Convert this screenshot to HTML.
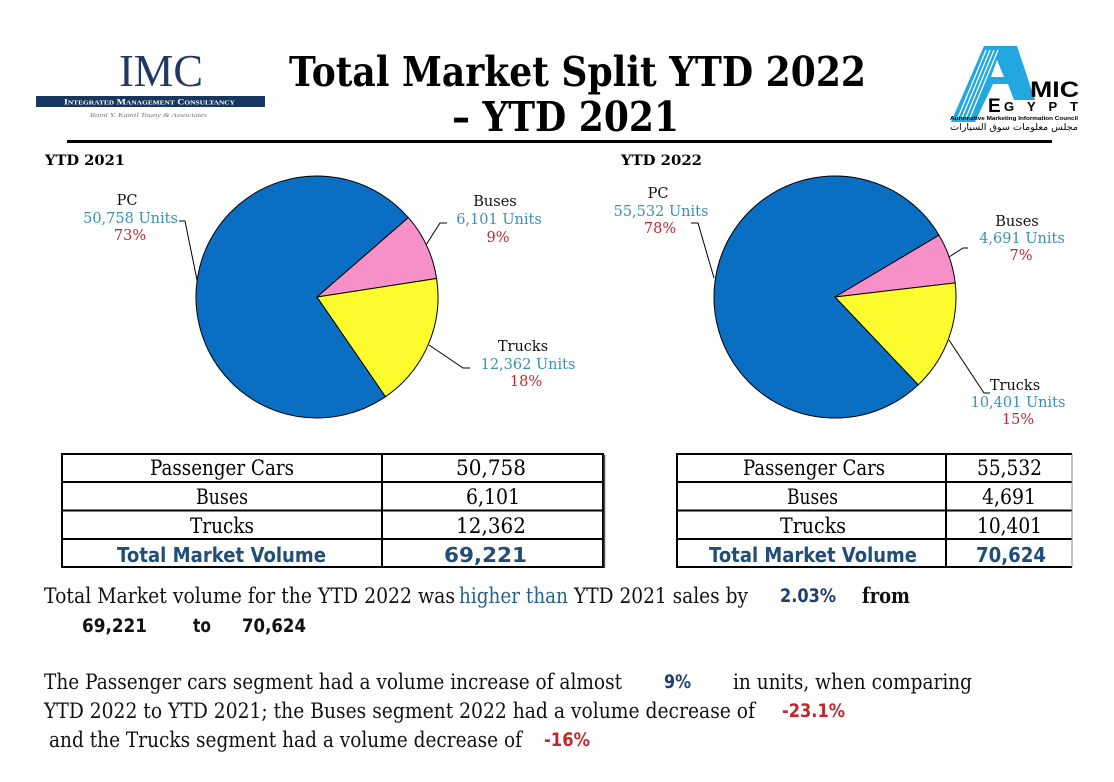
<!DOCTYPE html>
<html><head><meta charset="utf-8"><style>
html,body{margin:0;padding:0;background:#fff;}
svg{display:block;}
.s{font-family:"DejaVu Serif","Liberation Serif",serif;}
.b{font-family:"DejaVu Sans","Liberation Sans",sans-serif;font-weight:bold;}
</style></head><body>
<svg width="1114" height="782" viewBox="0 0 1114 782" xmlns="http://www.w3.org/2000/svg">
<rect width="1114" height="782" fill="#fff"/>
<!-- IMC logo -->
<text x="119" y="86" font-family="Liberation Serif,serif" font-size="46" fill="#1f3864" textLength="84" lengthAdjust="spacingAndGlyphs">IMC</text>
<rect x="36" y="96" width="229" height="11" fill="#17375e"/>
<text x="64" y="104.5" font-family="Liberation Serif,serif" font-size="8" font-weight="bold" fill="#fff" textLength="171" lengthAdjust="spacingAndGlyphs" style="font-variant:small-caps">Integrated Management Consultancy</text>
<text x="90" y="117" font-family="Liberation Serif,serif" font-style="italic" font-size="6" fill="#777" textLength="117" lengthAdjust="spacingAndGlyphs">Rami Y. Kamil Touny &amp; Associates</text>
<!-- Title -->
<text x="289" y="86" class="s" font-size="41" font-weight="bold" fill="#000" textLength="577" lengthAdjust="spacingAndGlyphs">Total Market Split YTD 2022</text>
<text x="452" y="131" class="s" font-size="41" font-weight="bold" fill="#000" textLength="227" lengthAdjust="spacingAndGlyphs">– YTD 2021</text>
<rect x="67" y="140" width="985" height="3" fill="#000"/>
<!-- AMIC logo -->
<g>
<path d="M984,46 L1017,46 L1035,100 L1014,100 L1008,84 L993,84 L975,122 L951,122 Z" fill="#22a7e0"/>
<path d="M997,60 L1004,77 L991,77 Z" fill="#fff"/>
<g stroke="#fff" stroke-width="1.3">
<line x1="986" y1="50" x2="957" y2="120"/>
<line x1="990" y1="50" x2="961" y2="120"/>
<line x1="994" y1="50" x2="965" y2="120"/>
<line x1="998" y1="50" x2="969" y2="120"/>
</g>
<text x="1030" y="97" font-family="Liberation Sans,sans-serif" font-weight="bold" font-size="22" fill="#000" textLength="49" lengthAdjust="spacingAndGlyphs">MIC</text>
<text x="988" y="112" font-family="Liberation Sans,sans-serif" font-weight="bold" font-size="19" fill="#000">E</text>
<text x="1004" y="111" font-family="Liberation Sans,sans-serif" font-weight="bold" font-size="13" fill="#000" textLength="74" lengthAdjust="spacing">GYPT</text>
<text x="950" y="120" font-family="Liberation Sans,sans-serif" font-weight="bold" font-size="5.5" fill="#000" textLength="128" lengthAdjust="spacingAndGlyphs">Automotive Marketing Information Council</text>
<text x="950" y="130" font-family="DejaVu Sans,sans-serif" font-size="9" fill="#000" textLength="128" lengthAdjust="spacingAndGlyphs">مجلس معلومات سوق السيارات</text>
</g>
<!-- Section labels -->
<text x="45" y="165" class="s" font-weight="bold" font-size="14" fill="#000" textLength="80" lengthAdjust="spacingAndGlyphs">YTD 2021</text>
<text x="621" y="165" class="s" font-weight="bold" font-size="14" fill="#000" textLength="81" lengthAdjust="spacingAndGlyphs">YTD 2022</text>
<!-- Left pie -->
<g stroke="#000" stroke-width="1">
<path d="M317,297 L385.5,396.7 A121,121 0 1,1 408.3,217.6 Z" fill="#0a6fc2"/>
<path d="M317,297 L408.3,217.6 A121,121 0 0,1 436.6,278.5 Z" fill="#f78fc9"/>
<path d="M317,297 L436.6,278.5 A121,121 0 0,1 385.5,396.7 Z" fill="#fbfb2d"/>
</g>
<g stroke="#000" stroke-width="1" fill="none">
<polyline points="179,221 185,221 197,280"/>
<polyline points="447,223 440,223 426,245"/>
<polyline points="429,345 463,368 470,368"/>
</g>
<g class="s" font-size="14.5" text-anchor="middle">
<text x="127" y="205" fill="#111">PC</text>
<text x="130.5" y="223" fill="#3a8fb7">50,758 Units</text>
<text x="130" y="240" fill="#c0282d">73%</text>
<text x="495" y="206" fill="#111">Buses</text>
<text x="499" y="224" fill="#3a8fb7">6,101 Units</text>
<text x="498" y="242" fill="#c0282d">9%</text>
<text x="523" y="351" fill="#111">Trucks</text>
<text x="528" y="369" fill="#3a8fb7">12,362 Units</text>
<text x="526" y="386" fill="#c0282d">18%</text>
</g>
<!-- Right pie -->
<g stroke="#000" stroke-width="1">
<path d="M835,297 L918.3,384.8 A121,121 0 1,1 939.0,235.2 Z" fill="#0a6fc2"/>
<path d="M835,297 L939.0,235.2 A121,121 0 0,1 955.2,282.9 Z" fill="#f78fc9"/>
<path d="M835,297 L955.2,282.9 A121,121 0 0,1 918.3,384.8 Z" fill="#fbfb2d"/>
</g>
<g stroke="#000" stroke-width="1" fill="none">
<polyline points="691,223 698,223 714,278"/>
<polyline points="968,248 963,248 949,257"/>
<polyline points="949,340 984,393 990,393"/>
</g>
<g class="s" font-size="14.5" text-anchor="middle">
<text x="658" y="198" fill="#111">PC</text>
<text x="661" y="216" fill="#3a8fb7">55,532 Units</text>
<text x="660" y="233" fill="#c0282d">78%</text>
<text x="1017" y="226" fill="#111">Buses</text>
<text x="1022" y="243" fill="#3a8fb7">4,691 Units</text>
<text x="1021" y="260" fill="#c0282d">7%</text>
<text x="1015" y="390" fill="#111">Trucks</text>
<text x="1018" y="407" fill="#3a8fb7">10,401 Units</text>
<text x="1018" y="424" fill="#c0282d">15%</text>
</g>
<!-- Left table -->
<g stroke="#000" fill="none">
<rect x="62" y="454" width="541" height="113" stroke-width="2"/>
<line x1="382" y1="454" x2="382" y2="567" stroke-width="2"/>
<line x1="62" y1="482" x2="603" y2="482" stroke-width="2"/>
<line x1="62" y1="510.5" x2="603" y2="510.5" stroke-width="2"/>
<line x1="62" y1="539" x2="603" y2="539" stroke-width="2"/>
<line x1="604.5" y1="455" x2="604.5" y2="568" stroke-width="1.5" stroke="#555"/>
</g>
<g class="s" font-size="21" fill="#000">
<text x="150" y="475" textLength="144" lengthAdjust="spacingAndGlyphs">Passenger Cars</text>
<text x="456" y="475" textLength="70" lengthAdjust="spacingAndGlyphs">50,758</text>
<text x="196" y="504" textLength="52" lengthAdjust="spacingAndGlyphs">Buses</text>
<text x="466" y="504" textLength="54" lengthAdjust="spacingAndGlyphs">6,101</text>
<text x="190" y="533" textLength="64" lengthAdjust="spacingAndGlyphs">Trucks</text>
<text x="456" y="533" textLength="70" lengthAdjust="spacingAndGlyphs">12,362</text>
</g>
<g class="b" font-size="20" fill="#1f4e79">
<text x="117" y="562" textLength="209" lengthAdjust="spacingAndGlyphs">Total Market Volume</text>
<text x="444" y="562" textLength="83" lengthAdjust="spacingAndGlyphs">69,221</text>
</g>
<!-- Right table -->
<g stroke="#000" fill="none">
<line x1="677" y1="454" x2="677" y2="567" stroke-width="2"/>
<line x1="676" y1="454" x2="1072" y2="454" stroke-width="2"/>
<line x1="676" y1="567" x2="1072" y2="567" stroke-width="2"/>
<line x1="946" y1="454" x2="946" y2="567" stroke-width="2"/>
<line x1="676" y1="482" x2="1072" y2="482" stroke-width="2"/>
<line x1="676" y1="510.5" x2="1072" y2="510.5" stroke-width="2"/>
<line x1="676" y1="539" x2="1072" y2="539" stroke-width="2"/>
<line x1="1072" y1="454" x2="1072" y2="567" stroke-width="1" stroke="#888"/>
</g>
<g class="s" font-size="21" fill="#000">
<text x="743" y="475" textLength="142" lengthAdjust="spacingAndGlyphs">Passenger Cars</text>
<text x="977" y="475" textLength="65" lengthAdjust="spacingAndGlyphs">55,532</text>
<text x="787" y="504" textLength="51" lengthAdjust="spacingAndGlyphs">Buses</text>
<text x="982" y="504" textLength="54" lengthAdjust="spacingAndGlyphs">4,691</text>
<text x="780" y="533" textLength="66" lengthAdjust="spacingAndGlyphs">Trucks</text>
<text x="977" y="533" textLength="65" lengthAdjust="spacingAndGlyphs">10,401</text>
</g>
<g class="b" font-size="20" fill="#1f4e79">
<text x="709" y="562" textLength="208" lengthAdjust="spacingAndGlyphs">Total Market Volume</text>
<text x="976" y="562" textLength="70" lengthAdjust="spacingAndGlyphs">70,624</text>
</g>
<!-- Bottom text -->
<g class="s" font-size="21" fill="#111">
<text x="44" y="603" textLength="411" lengthAdjust="spacingAndGlyphs">Total Market volume for the YTD 2022 was</text>
<text x="459" y="603" fill="#2a5f8a" textLength="109" lengthAdjust="spacingAndGlyphs">higher than</text>
<text x="574" y="603" textLength="174" lengthAdjust="spacingAndGlyphs">YTD 2021 sales by</text>
<text x="862" y="603" font-weight="bold" textLength="48" lengthAdjust="spacingAndGlyphs">from</text>
<text x="44" y="689" textLength="578" lengthAdjust="spacingAndGlyphs">The Passenger cars segment had a volume increase of almost</text>
<text x="733" y="689" textLength="239" lengthAdjust="spacingAndGlyphs">in units, when comparing</text>
<text x="44" y="718" textLength="711" lengthAdjust="spacingAndGlyphs">YTD 2022 to YTD 2021; the Buses segment 2022  had a volume decrease of</text>
<text x="49" y="747" textLength="473" lengthAdjust="spacingAndGlyphs">and the Trucks segment had a volume decrease of</text>
</g>
<g class="b" font-size="19">
<text x="780" y="602" fill="#1f3f6e" textLength="56" lengthAdjust="spacingAndGlyphs">2.03%</text>
<text x="82" y="632" fill="#111" textLength="65" lengthAdjust="spacingAndGlyphs">69,221</text>
<text x="193" y="632" fill="#111" textLength="18" lengthAdjust="spacingAndGlyphs">to</text>
<text x="242" y="632" fill="#111" textLength="64" lengthAdjust="spacingAndGlyphs">70,624</text>
<text x="664" y="688" fill="#1f3f6e" textLength="27" lengthAdjust="spacingAndGlyphs">9%</text>
<text x="782" y="717" fill="#c0282d" textLength="63" lengthAdjust="spacingAndGlyphs">-23.1%</text>
<text x="544" y="746" fill="#c0282d" textLength="46" lengthAdjust="spacingAndGlyphs">-16%</text>
</g>
</svg>
</body></html>
